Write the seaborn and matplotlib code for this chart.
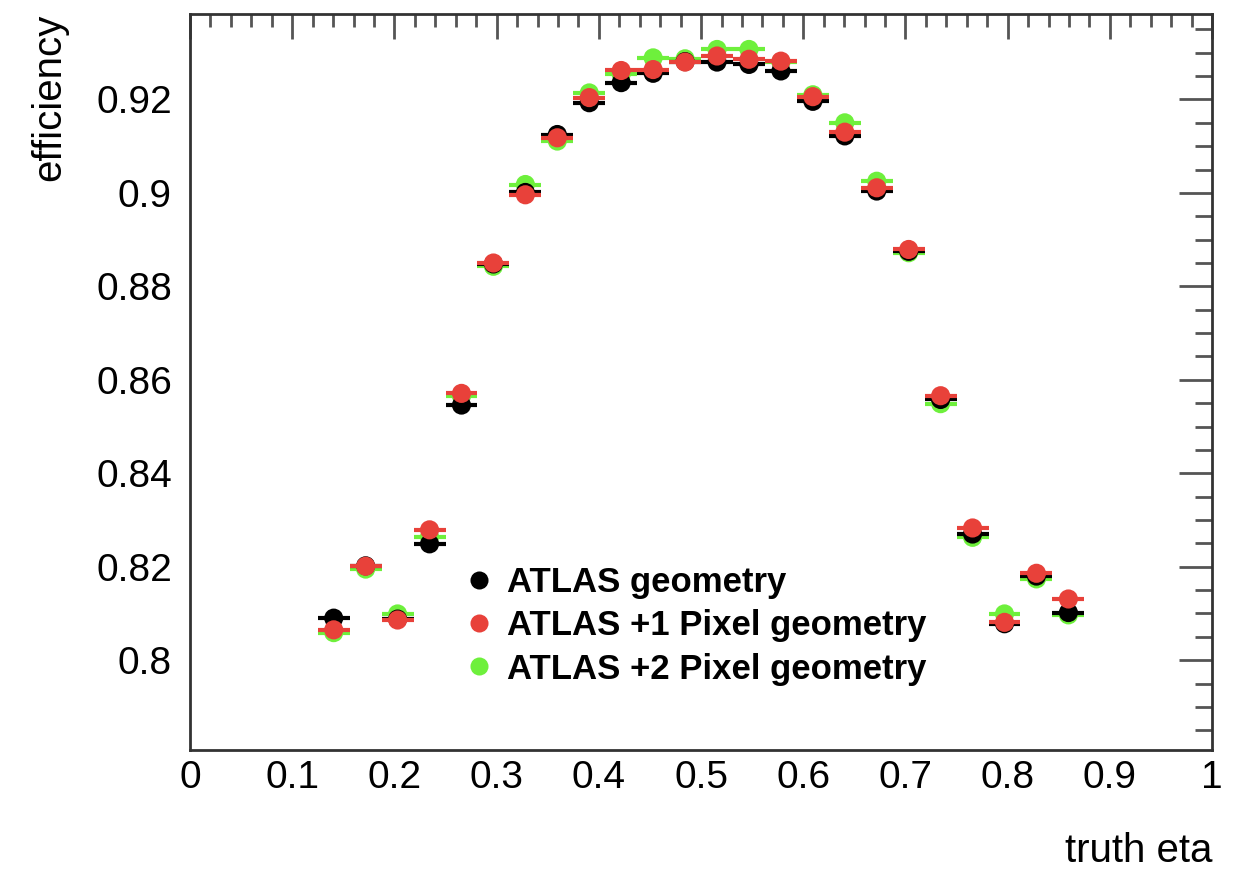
import numpy as np
import pandas as pd
import matplotlib
matplotlib.use("Agg")
import matplotlib.pyplot as plt
from matplotlib.ticker import MultipleLocator, FuncFormatter
from matplotlib.lines import Line2D
import seaborn as sns

# ==========================================
# DATA
# ==========================================
bin_width = 1 / 32
eta = [(k + 0.5) / 32 for k in range(4, 28)]

eff_atlas = [0.8090, 0.8202, 0.8088, 0.8249, 0.8546, 0.8848, 0.9001, 0.9125,
             0.9193, 0.9236, 0.9256, 0.9281, 0.9280, 0.9275, 0.9261, 0.9196,
             0.9122, 0.9004, 0.8875, 0.8558, 0.8270, 0.8078, 0.8180, 0.8102]
eff_plus1 = [0.8065, 0.8201, 0.8086, 0.8279, 0.8571, 0.8850, 0.8996, 0.9118,
             0.9204, 0.9262, 0.9264, 0.9280, 0.9293, 0.9286, 0.9282, 0.9206,
             0.9130, 0.9011, 0.8879, 0.8566, 0.8283, 0.8081, 0.8186, 0.8131]
eff_plus2 = [0.8059, 0.8195, 0.8099, 0.8264, 0.8565, 0.8843, 0.9018, 0.9111,
             0.9214, 0.9254, 0.9289, 0.9287, 0.9307, 0.9307, 0.9280, 0.9210,
             0.9150, 0.9025, 0.8872, 0.8549, 0.8263, 0.8099, 0.8174, 0.8097]

labels = ["ATLAS geometry", "ATLAS +1 Pixel geometry", "ATLAS +2 Pixel geometry"]
colors = {"ATLAS geometry": "black",
          "ATLAS +1 Pixel geometry": "#e8413a",
          "ATLAS +2 Pixel geometry": "#6ef03c"}

df = pd.DataFrame({
    "eta": eta * 3,
    "eff": eff_atlas + eff_plus1 + eff_plus2,
    "geometry": [labels[0]] * len(eta) + [labels[1]] * len(eta) + [labels[2]] * len(eta),
})

# ==========================================
# STYLE
# ==========================================
sns.set_style("white")
plt.rcParams["font.family"] = ["Liberation Sans", "DejaVu Sans"]
plt.rcParams["text.color"] = "black"
plt.rcParams["axes.labelcolor"] = "black"
plt.rcParams["xtick.labelcolor"] = "black"
plt.rcParams["ytick.labelcolor"] = "black"

fig = plt.figure(figsize=(12.36, 8.72), dpi=100)
ax = fig.add_axes([0.1537, 0.14, 0.827, 0.844])

# draw order: green, black, red (red ends on top)
z = {labels[2]: 3, labels[0]: 4, labels[1]: 5}
for lab in [labels[2], labels[0], labels[1]]:
    sub = df[df["geometry"] == lab]
    ax.errorbar(sub["eta"], sub["eff"], xerr=bin_width / 2, fmt="none",
                ecolor=colors[lab], elinewidth=3, capsize=0, zorder=z[lab])
    sns.scatterplot(data=sub, x="eta", y="eff", color=colors[lab], s=190,
                    edgecolor="none", ax=ax, zorder=z[lab] + 0.5, legend=False)

ax.set_xlim(0, 1)
ax.set_ylim(0.7808, 0.9383)

ax.xaxis.set_major_locator(MultipleLocator(0.1))
ax.xaxis.set_minor_locator(MultipleLocator(0.02))
ax.yaxis.set_major_locator(MultipleLocator(0.02))
ax.yaxis.set_minor_locator(MultipleLocator(0.005))
fmt = FuncFormatter(lambda v, p: "%g" % round(v, 3))
ax.xaxis.set_major_formatter(fmt)
ax.yaxis.set_major_formatter(fmt)

ax.tick_params(axis="both", which="both", direction="in", top=True, right=True,
               color="#555555", width=2)
ax.tick_params(axis="y", which="major", length=24, pad=13, labelsize=28)
ax.tick_params(axis="y", which="minor", length=12)
ax.tick_params(axis="x", which="major", length=18, pad=7, labelsize=28)
ax.tick_params(axis="x", which="minor", length=9)

for sp in ax.spines.values():
    sp.set_color("#333333")
    sp.set_linewidth(2)

ax.set_xlabel("truth eta", loc="right", fontsize=29, labelpad=26)
ax.set_ylabel("efficiency", loc="top", fontsize=29, labelpad=20)

# legend (no frame, like ROOT TLegend with border 0)
handles = [Line2D([], [], marker="o", linestyle="none", markersize=13,
                  markerfacecolor=colors[l], markeredgecolor="none") for l in labels]
ax.legend(handles, labels, loc="lower left", bbox_to_anchor=(0.235, 0.045),
          frameon=False, prop={"weight": "bold", "size": 25},
          handletextpad=0.3, labelspacing=0.3, handlelength=1.0)

fig.savefig("out.png", dpi=100)
